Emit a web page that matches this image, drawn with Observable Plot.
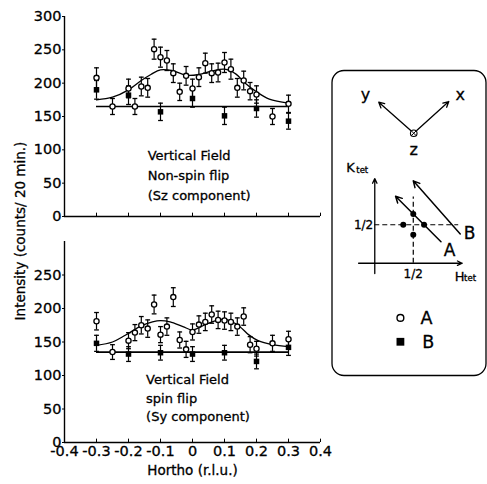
<!DOCTYPE html>
<html><head><meta charset="utf-8">
<script src="https://cdn.jsdelivr.net/npm/d3@7"></script>
<script src="https://cdn.jsdelivr.net/npm/@observablehq/plot@0.6"></script>
<style>
html,body{margin:0;padding:0;background:#fff;}
#fig{position:relative;width:487px;height:484px;font-family:"DejaVu Sans",sans-serif;color:#000;overflow:hidden;}
#fig > *{position:absolute;}
#ylab{left:20px;top:231px;transform:translate(-50%,-50%) rotate(-90deg);white-space:nowrap;font-size:13.5px;-webkit-text-stroke:0.3px #000;}
svg{overflow:visible;}
svg text{stroke:#000;stroke-width:0.3px;}
</style></head><body>
<div id="fig">
  <div id="top" style="left:0;top:0"></div>
  <div id="bottom" style="left:0;top:230px"></div>
  <div id="ylab">Intensity (counts/ 20 min.)</div>
  <div id="inset" style="left:330px;top:68px"></div>
</div>
<script>
// Scan positions along Hortho (r.l.u.)
const hA = [-0.3,-0.25,-0.2,-0.18,-0.16,-0.14,-0.12,-0.1,-0.08,-0.06,-0.04,-0.02,0,0.02,0.04,0.06,0.08,0.1,0.12,0.14,0.16,0.18,0.2,0.25,0.3];
const hB = [-0.3,-0.2,-0.1,0,0.1,0.2,0.3];

// Non-spin flip (Sz component): counts / 20 min and errors
const nsfA    = [208,165,192,165,195,193,251,239,234,215,187,211,192,209,230,215,216,231,221,193,204,188,183,150,169];
const nsfAerr = [15,12,14,12,14,14,15,15,15,14,13,14,14,14,15,14,14,15,15,14,14,13,13,12,13];
const nsfB    = [190,182,157,177,151,162,143];
const nsfBerr = [14,14,13,13,13,13,12];

// Spin flip (Sy component)
const sfA    = [181,135,152,164,175,170,206,161,173,217,153,139,165,176,180,191,183,182,180,173,188,146,140,148,154];
const sfAerr = [13,11,12,12,13,13,14,12,13,14,12,12,12,13,13,13,13,13,13,13,13,12,11,12,12];
const sfB    = [148,132,134,132,134,121,142];
const sfBerr = [12,11,11,11,11,11,12];

// Fitted profiles
const nsfFitH = [-0.3,-0.25,-0.2,-0.16,-0.13,-0.1,-0.065,-0.02,0.02,0.06,0.1,0.135,0.165,0.2,0.24,0.3];
const nsfFitI = [175,179,190,204,213,220,219,212,213,218,221,214,200,187,176,170];
const sfFitH = [-0.3,-0.25,-0.21,-0.16,-0.125,-0.1,-0.07,-0.03,0,0.04,0.08,0.1,0.145,0.175,0.205,0.25,0.3];
const sfFitI = [145,150,160,174,180,182,180,173,168,176,183,184,174,161,152,146,143];

// Flat background levels and their extent
const nsfBackground = 165;
const sfBackground = 135;
const backgroundSpan = [-0.3, 0.3];

// Axis ticks
const xTicks = [-0.4,-0.3,-0.2,-0.1,0,0.1,0.2,0.3,0.4];
const yTicksTop = [0,50,100,150,200,250,300];
const yTicksBottom = [0,50,100,150,200,250];

// Panel notes
const nsfNote = ["Vertical Field", "Non-spin flip", "(Sz component)"];
const sfNote = ["Vertical Field", "spin flip", "(Sy component)"];
const xLabel = "Hortho (r.l.u.)";

const zip = (h, v, e) => h.map((x, i) => ({x, y: v[i], e: e ? e[i] : 0}));

// horizontal cap drawn at the ends of each error bar
const capSymbol = {
  draw(ctx, size) {
    const r = Math.sqrt(size / Math.PI);
    ctx.moveTo(-r, 0);
    ctx.lineTo(r, 0);
  }
};

const font = {fontFamily: "'DejaVu Sans', sans-serif", fontSize: "14.5px", color: "black", background: "transparent", overflow: "visible"};

function panel({A, B, fit, background, yTicks, note, noteX, noteY, noteLine, withXAxis, height, marginTop, marginBottom}) {
  const errorMarks = (pts, w) => [
    Plot.ruleX(pts, {x: "x", y1: d => d.y - d.e, y2: d => d.y + d.e, stroke: "black", strokeWidth: w}),
    Plot.dot(pts, {x: "x", y: d => d.y + d.e, symbol: capSymbol, r: 2.4, fill: "none", stroke: "black", strokeWidth: 1.3}),
    Plot.dot(pts, {x: "x", y: d => d.y - d.e, symbol: capSymbol, r: 2.4, fill: "none", stroke: "black", strokeWidth: 1.3})
  ];
  const marks = [
    Plot.ruleX([-0.4], {stroke: "black", strokeWidth: 1.4}),
    Plot.ruleY([0], {stroke: "black", strokeWidth: 1.4}),
    Plot.ruleX(xTicks, {y1: 0, y2: 5, stroke: "black", strokeWidth: 1}),
    Plot.axisY({ticks: yTicks, tickSize: 2, tickPadding: 1, tickFormat: d => String(d), label: null}),
    ...errorMarks(B, 1.2),
    ...errorMarks(A, 1.2),
    Plot.line(fit, {x: "x", y: "y", curve: "catmull-rom", stroke: "black", strokeWidth: 1.3}),
    Plot.ruleY([background], {x1: backgroundSpan[0], x2: backgroundSpan[1], stroke: "black", strokeWidth: 1.7}),
    Plot.dot(B, {x: "x", y: "y", symbol: "square", r: 3.1, fill: "black", stroke: "none"}),
    Plot.dot(A, {x: "x", y: "y", r: 2.6, fill: "white", stroke: "black", strokeWidth: 1.3}),
    Plot.text([note.join("\n")], {x: noteX, y: noteY, textAnchor: "start", lineAnchor: "middle", lineHeight: noteLine, fontSize: 13})
  ];
  if (withXAxis) {
    marks.push(Plot.axisX({ticks: xTicks, tickSize: 0, tickPadding: 3, tickFormat: d => String(d), label: null}));
    marks.push(Plot.text([xLabel], {frameAnchor: "bottom", dy: 32, fontSize: 13.5}));
  }
  return Plot.plot({
    width: 330, height, marginLeft: 64, marginRight: 10, marginTop, marginBottom,
    style: font,
    x: {domain: [-0.4, 0.4], axis: null},
    y: {domain: [0, 300], axis: null},
    marks
  });
}

document.getElementById("top").append(panel({
  A: zip(hA, nsfA, nsfAerr), B: zip(hB, nsfB, nsfBerr), fit: zip(nsfFitH, nsfFitI),
  background: nsfBackground, yTicks: yTicksTop, note: nsfNote, noteX: -0.14, noteY: 65, noteLine: 1.54,
  withXAxis: false, height: 226, marginTop: 16, marginBottom: 10
}));

document.getElementById("bottom").append(panel({
  A: zip(hA, sfA, sfAerr), B: zip(hB, sfB, sfBerr), fit: zip(sfFitH, sfFitI),
  background: sfBackground, yTicks: yTicksBottom, note: sfNote, noteX: -0.145, noteY: 68, noteLine: 1.42,
  withXAxis: true, height: 254, marginTop: 11, marginBottom: 42
}));

// Inset: spin axes and reciprocal-space scan geometry (H_tet, K_tet)
const peakH = [0.37, 0.64, 0.5, 0.5];
const peakK = [0.5, 0.5, 0.64, 0.37];
const scanNames = ["A", "B"];
const scanFromH = [0.86, 1.11], scanFromK = [0.28, 0.38];
const scanToH = [0.27, 0.5], scanToK = [0.87, 1.07];
const scanLabelH = [0.97, 1.23], scanLabelK = [0.16, 0.38];
const spinOrigin = [0.506, 1.688];
const spinAxes = ["y", "x"];
const spinTipH = [0.052, 0.961], spinTipK = [2.091, 2.1];
const spinLabelH = [-0.12, 1.11], spinLabelK = [2.19, 2.19];
const half = 0.5;

const scans = scanNames.map((name, i) => ({name, x1: scanFromH[i], y1: scanFromK[i], x2: scanToH[i], y2: scanToK[i], lx: scanLabelH[i], ly: scanLabelK[i]}));
const spins = spinAxes.map((name, i) => ({name, x: spinTipH[i], y: spinTipK[i], lx: spinLabelH[i], ly: spinLabelK[i]}));
const peaks = peakH.map((h, i) => ({x: h, y: peakK[i]}));

const inset = Plot.plot({
  width: 157, height: 309, marginLeft: 1.5, marginRight: 1.5, marginTop: 2, marginBottom: 2,
  style: font,
  x: {domain: [-0.575, 1.464], range: [0, 157], axis: null},
  y: {domain: [-1.484, 2.529], range: [309, 0], axis: null},
  marks: [
    Plot.frame({rx: 12, ry: 12, stroke: "black", strokeWidth: 1.3}),
    // spin frame
    Plot.arrow(spins, {x1: spinOrigin[0], y1: spinOrigin[1], x2: "x", y2: "y", insetStart: 4, headLength: 7, headAngle: 55, stroke: "black", strokeWidth: 1.3}),
    Plot.text(spins, {x: "lx", y: "ly", text: "name", fontSize: 16}),
    Plot.dot([0], {x: spinOrigin[0], y: spinOrigin[1], r: 3.3, fill: "white", stroke: "black", strokeWidth: 1.1}),
    Plot.dot([0], {x: spinOrigin[0], y: spinOrigin[1], symbol: "times", r: 2.2, stroke: "black", strokeWidth: 1}),
    Plot.text(["z"], {x: spinOrigin[0], y: 1.47, fontSize: 16}),
    // reciprocal-space axes
    Plot.arrow([0], {x1: -0.21, y1: 0, x2: 1.135, y2: 0, headLength: 6, headAngle: 50, stroke: "black", strokeWidth: 1.3}),
    Plot.arrow([0], {x1: 0, y1: -0.134, x2: 0, y2: 1.1, headLength: 6, headAngle: 50, stroke: "black", strokeWidth: 1.3}),
    Plot.ruleY([half], {x1: 0, x2: 1.09, stroke: "black", strokeWidth: 1.2, strokeDasharray: "5,3"}),
    Plot.ruleX([half], {y1: 0, y2: 0.86, stroke: "black", strokeWidth: 1.2, strokeDasharray: "5,3"}),
    Plot.text(["1/2"], {x: -0.02, y: half, textAnchor: "end", fontSize: 12}),
    Plot.text(["1/2"], {x: half, y: -0.14, fontSize: 12}),
    Plot.text(["K"], {x: -0.37, y: 1.24, textAnchor: "start", fontSize: 13}),
    Plot.text(["tet"], {x: -0.24, y: 1.21, textAnchor: "start", fontSize: 8.5}),
    Plot.text(["H"], {x: 1.04, y: -0.173, textAnchor: "start", fontSize: 13}),
    Plot.text(["tet"], {x: 1.16, y: -0.2, textAnchor: "start", fontSize: 8.5}),
    // scan trajectories
    Plot.arrow(scans, {x1: "x1", y1: "y1", x2: "x2", y2: "y2", headLength: 7, headAngle: 55, stroke: "black", strokeWidth: 1.5}),
    Plot.text(scans, {x: "lx", y: "ly", text: "name", fontSize: 17}),
    Plot.dot(peaks, {x: "x", y: "y", r: 3, fill: "black"}),
    // symbol key
    Plot.dot([0], {x: 0.333, y: -0.71, r: 3.4, fill: "white", stroke: "black", strokeWidth: 1.4}),
    Plot.text(["A"], {x: 0.594, y: -0.717, textAnchor: "start", fontSize: 17.5}),
    Plot.dot([0], {x: 0.333, y: -1.02, symbol: "square", r: 4.4, fill: "black"}),
    Plot.text(["B"], {x: 0.615, y: -1.03, textAnchor: "start", fontSize: 17.5})
  ]
});
document.getElementById("inset").append(inset);
</script>
</body></html>
